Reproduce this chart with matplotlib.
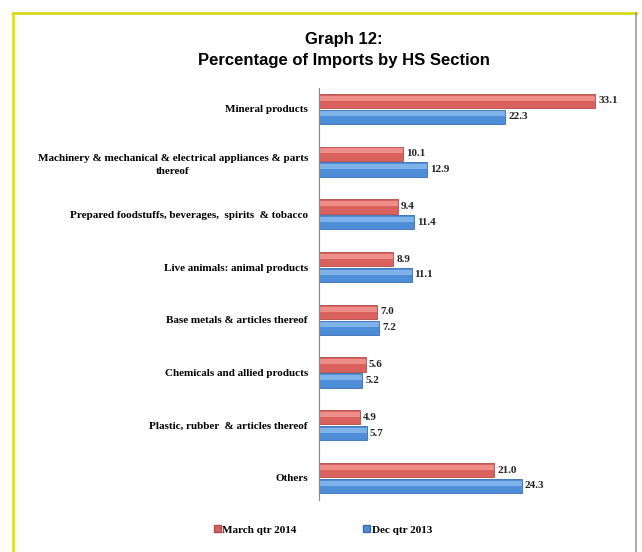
import matplotlib.pyplot as plt
import numpy as np
from matplotlib.lines import Line2D
from matplotlib.patches import Patch

# data
categories = [
    "Mineral products",
    "Machinery & mechanical & electrical appliances & parts\nthereof",
    "Prepared foodstuffs, beverages,  spirits  & tobacco",
    "Live animals: animal products",
    "Base metals & articles thereof",
    "Chemicals and allied products",
    "Plastic, rubber  & articles thereof",
    "Others",
]
march_2014 = [33.1, 10.1, 9.4, 8.9, 7.0, 5.6, 4.9, 21.0]
dec_2013 = [22.3, 12.9, 11.4, 11.1, 7.2, 5.2, 5.7, 24.3]
series_names = ["March qtr 2014", "Dec qtr 2013"]

red = "#D9615E"
red_dark = "#B04A47"
red_light = "#EE8E8B"
blue = "#4E8ED8"
blue_dark = "#3A6DAE"
blue_light = "#80B2EA"
serif = "Liberation Serif"

fig = plt.figure(figsize=(6.42, 5.52), dpi=100)
ax = fig.add_axes([0.497, 0.094, 0.494, 0.746])

y = np.arange(len(categories))
h = 0.27
off = 0.15

# bars with a light band on top for the glossy look
bars1 = ax.barh(y - off, march_2014, height=h, color=red, edgecolor=red_dark, linewidth=0.6)
ax.barh(y - off - h * 0.2, march_2014, height=h * 0.35, color=red_light, linewidth=0)
bars2 = ax.barh(y + off, dec_2013, height=h, color=blue, edgecolor=blue_dark, linewidth=0.6)
ax.barh(y + off - h * 0.2, dec_2013, height=h * 0.35, color=blue_light, linewidth=0)

for bars, vals in [(bars1, march_2014), (bars2, dec_2013)]:
    for b, v in zip(bars, vals):
        ax.text(b.get_width() + 0.35, b.get_y() + b.get_height() / 2, f"{v:.1f}",
                va="center", ha="left", fontsize=8, fontweight="bold",
                family=serif, color="#222222")

ax.set_xlim(0, 38.0)
ax.set_ylim(7.42, -0.39)
ax.set_yticks(y)
ax.set_yticklabels(categories, fontsize=8, fontweight="bold", family=serif,
                   multialignment="center", linespacing=1.6)
ax.tick_params(axis="y", length=0, pad=8)
ax.set_xticks([])
for s in ["top", "right", "bottom"]:
    ax.spines[s].set_visible(False)
ax.spines["left"].set_color("#888888")
ax.spines["left"].set_linewidth(0.8)

# title
fig.text(0.535, 0.929, "Graph 12:", ha="center", va="center", fontsize=12,
         fontweight="bold", family="Liberation Sans")
fig.text(0.535, 0.891, "Percentage of Imports by HS Section", ha="center", va="center",
         fontsize=12, fontweight="bold", family="Liberation Sans")

# legend
handles = [Patch(facecolor=red, edgecolor=red_dark), Patch(facecolor=blue, edgecolor=blue_dark)]
fig.legend(handles, series_names, loc="center", bbox_to_anchor=(0.503, 0.04),
           ncol=2, frameon=False, handlelength=0.6, handleheight=0.6,
           handletextpad=0.15, columnspacing=6.0,
           prop={"family": serif, "weight": "bold", "size": 8})

# frame
fig.add_artist(Line2D([13 / 642, 13 / 642], [0, 1 - 13 / 552], color="#E6E600", lw=2))
fig.add_artist(Line2D([13 / 642, 636 / 642], [1 - 13 / 552, 1 - 13 / 552], color="#D8D820", lw=2))
fig.add_artist(Line2D([636 / 642, 636 / 642], [0, 1 - 13 / 552], color="#999999", lw=1.2))

fig.savefig("out.png", dpi=100)
